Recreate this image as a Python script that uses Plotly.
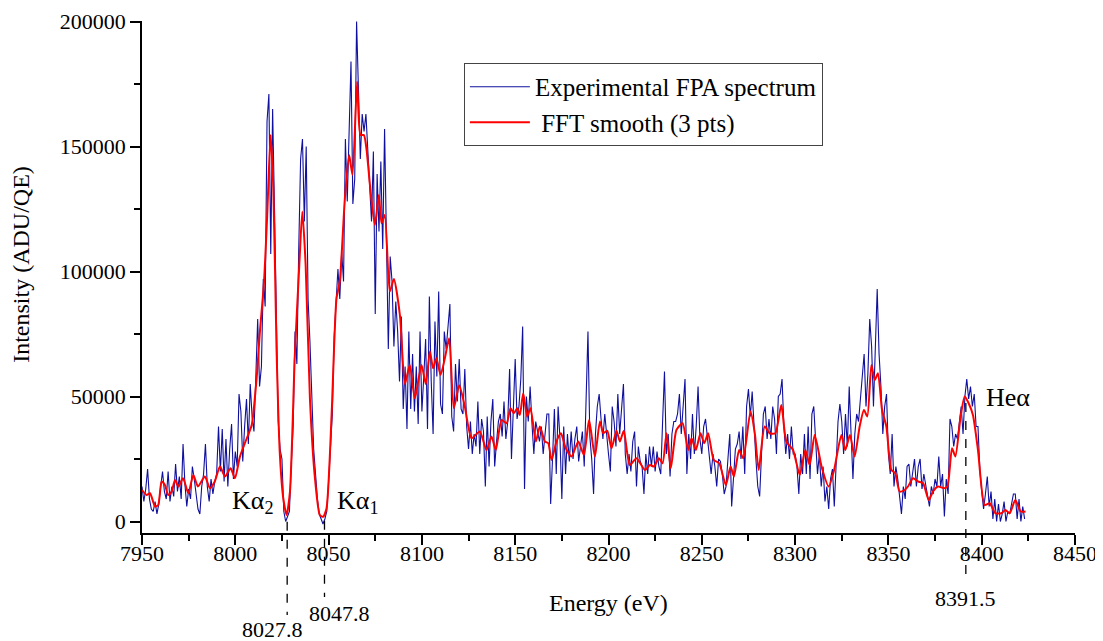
import plotly.graph_objects as go

# Experimental spectrum, intensity in thousands of ADU/QE, 1 eV steps from 7950 eV
blue_start = 7950
blue_k = [
    14, 8, 13, 21, 9, 5, 4, 8, 3, 7, 14, 20, 12, 9, 20, 8, 14, 10, 23, 12,
    18, 9, 31, 15, 6, 13, 9, 22, 17, 11, 5, 3, 14, 19, 31, 14, 8, 17, 11, 16,
    19, 38, 20, 37, 16, 33, 14, 29, 39, 17,
    28, 22, 51, 44, 24, 38, 49, 31, 55, 42, 36, 58, 81, 54, 62, 97, 86, 160, 171, 107,
    165, 125, 76, 40, 29, 25, 4, 0, 2, 4, 23, 38, 76, 63, 109, 145, 153, 120, 150, 89,
    72, 49, 29, 19, 9, 3, 1, -1, 1, 4,
    16, 28, 43, 74, 89, 101, 89, 108, 96, 153, 128, 159, 184, 127, 137, 200, 169, 145, 163, 156,
    163, 149, 136, 120, 148, 83, 139, 116, 144, 109, 157, 118, 69, 106, 96, 70, 88, 76, 56, 82,
    45, 62, 37, 76, 45, 67, 44, 62, 39, 76,
    44, 58, 73, 37, 90, 56, 35, 80, 58, 92, 47, 43, 76, 69, 79, 87, 42, 36, 63, 48,
    65, 45, 43, 61, 38, 29, 40, 27, 35, 30, 48, 27, 41, 36, 14, 42, 22, 40, 49, 22,
    32, 40, 43, 34, 48, 33, 40, 61, 25, 47,
    65, 41, 46, 57, 78, 13, 50, 40, 54, 39, 27, 40, 35, 32, 38, 27, 35, 43, 43, 7,
    25, 45, 19, 46, 33, 9, 38, 19, 35, 24, 36, 25, 33, 38, 24, 30, 36, 22, 45, 76,
    34, 25, 11, 35, 46, 51, 41, 33, 43, 34,
    27, 20, 46, 40, 30, 51, 35, 45, 55, 27, 19, 27, 20, 32, 36, 14, 30, 24, 22, 11,
    27, 19, 30, 22, 30, 20, 28, 22, 19, 40, 60, 27, 35, 18, 35, 40, 40, 43, 51, 35,
    45, 57, 19, 35, 25, 43, 27, 38, 54, 33,
    27, 38, 41, 33, 27, 19, 27, 22, 14, 25, 24, 19, 11, 14, 25, 35, 6, 19, 29, 31,
    36, 25, 38, 19, 46, 53, 42, 52, 36, 25, 14, 10, 27, 43, 46, 33, 41, 33, 46, 41,
    27, 50, 51, 57, 38, 27, 35, 25, 38, 27,
    27, 22, 11, 27, 19, 35, 19, 38, 17, 43, 46, 30, 19, 27, 14, 22, 8, 14, 5, 17,
    21, 6, 25, 40, 47, 40, 27, 43, 30, 54, 35, 17, 35, 43, 40, 49, 57, 67, 46, 59,
    81, 70, 46, 68, 93, 67, 54, 35, 46, 51,
    27, 19, 35, 14, 22, 17, 11, 3, 14, 9, 22, 23, 14, 19, 25, 14, 22, 25, 13, 19,
    14, 11, 6, 14, 11, 17, 14, 26, 14, 19, 2, 17, 11, 41, 38, 30, 35, 33, 41, 46,
    35, 50, 57, 49, 54, 46, 51, 38, 38, 21,
    12, 5, 11, 18, 6, 12, 1, 9, 0, 7, 0, 3, 8, 0, 4, 3, 7, 11, 11, 1,
    9, 0, 6, 1,
]
blue_energy = [blue_start + i for i in range(len(blue_k))]

# FFT smoothed curve (thousands)
red_energy = [
    7950, 7952.5, 7954.3, 7957, 7958.7, 7960.5, 7962.3, 7964, 7965.9, 7967.7, 7969.5, 7972,
    7974.8, 7977.5, 7980, 7983.7, 7986.4, 7989, 7991.8, 7994.5, 7997.5, 7999.8, 8002.5, 8006,
    8008.8, 8011.4, 8013.2, 8015.4, 8017.1, 8018.9, 8020.4, 8022.1, 8023.9, 8025.7, 8027.5,
    8029.3, 8031.9, 8034.3, 8035.9, 8037.7, 8040, 8042.6, 8045.3, 8047.1, 8048.9, 8051.6,
    8054.2, 8056, 8058.7, 8061, 8062.8, 8065.3, 8067.1, 8068.9, 8070.3, 8072.5, 8074.8,
    8076.9, 8078.4, 8080.1, 8082.8, 8085, 8088.2, 8090.9, 8093.5, 8096.2, 8099.8, 8102.1,
    8104.3, 8106, 8107.8, 8110, 8112.3, 8114.6, 8117.1, 8120, 8123, 8126.6, 8131, 8134.6,
    8137.3, 8139.6, 8142.7, 8145.4, 8147.5, 8149.3, 8151.1, 8152.5, 8154.3, 8156.4, 8158.2,
    8161.1, 8163.2, 8165.9, 8167.7, 8169.5, 8172.1, 8174.5, 8177.1, 8180.2, 8183.8, 8186.8,
    8189.6, 8192.7, 8195.4, 8197.2, 8199.3, 8201.6, 8204.3, 8206.1, 8208.2, 8211.4, 8215,
    8219.5, 8222.2, 8224.3, 8227, 8229, 8231.1, 8233.4, 8236.4, 8239.7, 8242.7, 8244.5,
    8246.8, 8249.3, 8251.3, 8253.4, 8256.4, 8259.3, 8262.9, 8265.4, 8267.2, 8270, 8272.2,
    8276.1, 8278.4, 8280.5, 8283.7, 8286.4, 8289.4, 8292.6, 8295.3, 8298.9, 8302.5, 8305.5,
    8307.8, 8310.5, 8314.4, 8318, 8320.9, 8324.8, 8326.9, 8329.4, 8331.9, 8334.6, 8336.9,
    8338.7, 8340.9, 8342.7, 8344.4, 8346.6, 8348.9, 8351.6, 8353.7, 8356, 8358.7, 8360.5,
    8363.2, 8365.9, 8368.6, 8371.6, 8373.9, 8376.6, 8379.8, 8381.6, 8384.1, 8385.9, 8388.7,
    8390.9, 8393, 8395.3, 8398, 8401.6, 8404.3, 8407.3, 8410.5, 8412.7, 8415, 8418, 8420.9,
    8423.5,
]
red_k = [
    12.6, 10.6, 11.3, 6, 6.6, 16, 14.6, 10.6, 12, 16.6, 14, 17.3,
    11.3, 18.6, 14, 18, 13.3, 16, 22, 18, 21.3, 17.3, 26, 33,
    38.6, 57, 76, 96, 122.6, 154.6, 133, 69, 26.6, 9.3, 2.6,
    12, 66.6, 102.6, 124, 102.6, 49, 18, 2.6, 1.9, 5.3, 42.6,
    89, 96, 129, 146.6, 138.6, 176, 154.6, 154.6, 149, 132, 118.6,
    130.6, 119.3, 122.6, 92, 97, 82.6, 55, 62.6, 49.3, 62.6, 55,
    68, 61.3, 65.3, 58.6, 65.3, 73.3, 45.3, 54.5, 46, 33.3, 36, 28.6,
    34, 28.6, 40.6, 39.3, 45.3, 43.3, 45.3, 42.6, 51.3, 42, 45.3,
    32, 38, 32, 31.3, 24.6, 32, 35.3, 29.3, 26, 32, 26.6,
    40.6, 26, 40, 35.3, 36.3, 29.3, 36.3, 32, 36.3, 22.6, 25.3,
    20.6, 22.6, 22, 25.3, 23.3, 35.3, 21.3, 36.6, 39.3, 28.6, 33.3,
    28.6, 35.3, 31.3, 35.3, 24.6, 23.3, 14.6, 22, 18, 28.6, 25.3,
    44, 35.3, 20.6, 38, 35.3, 35.3, 46.6, 32, 28.6, 18.6, 28.6,
    22.6, 34.6, 21.3, 14, 20.6, 34.6, 28.6, 34.6, 26, 38, 44.6,
    42, 62.6, 56.6, 59.3, 44.6, 38, 20.6, 19.3, 12, 12.6, 14,
    17.3, 16, 15.3, 8.6, 12, 14, 13.3, 14, 29.3, 26, 42,
    50, 47.3, 42.6, 28.6, 6.6, 7.3, 3.3, 3.3, 4.6, 3.3, 8.6, 4,
    4,
]

peak_energy = [8027.8, 8047.8, 8391.5]
peak_labels = ["8027.8", "8047.8", "8391.5"]

font_family = "Liberation Serif, Times New Roman, serif"

fig = go.Figure()

fig.add_trace(go.Scatter(
    x=blue_energy,
    y=[v * 1000 for v in blue_k],
    mode='lines',
    name='Experimental FPA spectrum',
    line=dict(color='#10109E', width=1.1)
))

fig.add_trace(go.Scatter(
    x=red_energy,
    y=[v * 1000 for v in red_k],
    mode='lines',
    name=' FFT smooth (3 pts)',
    line=dict(color='#FF0000', width=2, shape='spline', smoothing=0.6)
))

# dashed markers for the line positions (paper y, reaching below the axis)
dash_top = [0.022, 0.024, 0.254]
dash_bottom = [-0.16, -0.125, -0.086]
label_y = [-0.188, -0.158, -0.127]
label_shift = [-15, 15, 0]
for e, lab, y0, y1, ly, sh in zip(peak_energy, peak_labels, dash_top, dash_bottom, label_y, label_shift):
    fig.add_shape(type='line', xref='x', yref='paper', x0=e, x1=e, y0=y0, y1=y1,
                  line=dict(color='black', width=1.3, dash='dash'))
    fig.add_annotation(x=e, y=ly, xref='x', yref='paper', text=lab, showarrow=False,
                       xshift=sh, xanchor='center', yanchor='middle',
                       font=dict(size=22, color='black', family=font_family))

fig.add_annotation(x=8009.5, y=7800, text='Kα<sub>2</sub>', showarrow=False,
                   xanchor='center', yanchor='middle',
                   font=dict(size=26, color='black', family=font_family))
fig.add_annotation(x=8065.7, y=7800, text='Kα<sub>1</sub>', showarrow=False,
                   xanchor='center', yanchor='middle',
                   font=dict(size=26, color='black', family=font_family))
fig.add_annotation(x=8414, y=49800, text='Heα', showarrow=False,
                   xanchor='center', yanchor='middle',
                   font=dict(size=26, color='black', family=font_family))

# axis titles placed by hand
fig.add_annotation(x=-0.129, y=0.525, xref='paper', yref='paper', text='Intensity (ADU/QE)',
                   textangle=-90, showarrow=False, xanchor='center', yanchor='middle',
                   font=dict(size=24, color='black', family=font_family))
fig.add_annotation(x=0.5, y=-0.137, xref='paper', yref='paper', text='Energy (eV)',
                   showarrow=False, xanchor='center', yanchor='middle',
                   font=dict(size=24, color='black', family=font_family))

# page body keeps an 8 px margin, so the figure is 8 px smaller and margins shifted
fig.update_layout(
    width=1095,
    height=633,
    margin=dict(l=134, r=28, t=13, b=108, autoexpand=False),
    template='plotly_white',
    plot_bgcolor='white',
    paper_bgcolor='white',
    font=dict(family=font_family, size=22, color='black'),
    legend=dict(
        x=0.345, y=0.918, xanchor='left', yanchor='top',
        bgcolor='white', bordercolor='#444444', borderwidth=1,
        font=dict(size=25, family=font_family, color='black'),
        itemwidth=60, tracegroupgap=0
    ),
    xaxis=dict(
        range=[7950, 8450], automargin=False,
        tick0=7950, dtick=50,
        ticks='outside', ticklen=10, tickwidth=1.5, tickcolor='black',
        ticklabelstandoff=-10,
        minor=dict(dtick=25, ticks='outside', ticklen=6, tickwidth=1.5, tickcolor='black', showgrid=False),
        showline=True, linecolor='black', linewidth=1.5,
        showgrid=False, zeroline=False,
        tickfont=dict(size=22, family=font_family)
    ),
    yaxis=dict(
        range=[-4600, 200200], automargin=False,
        tick0=0, dtick=50000, tickformat='d',
        ticks='outside', ticklen=10, tickwidth=1.5, tickcolor='black',
        minor=dict(dtick=25000, ticks='outside', ticklen=6, tickwidth=1.5, tickcolor='black', showgrid=False),
        showline=True, linecolor='black', linewidth=1.5,
        showgrid=False, zeroline=False,
        tickfont=dict(size=22, family=font_family)
    )
)

fig.write_html("out.html")
